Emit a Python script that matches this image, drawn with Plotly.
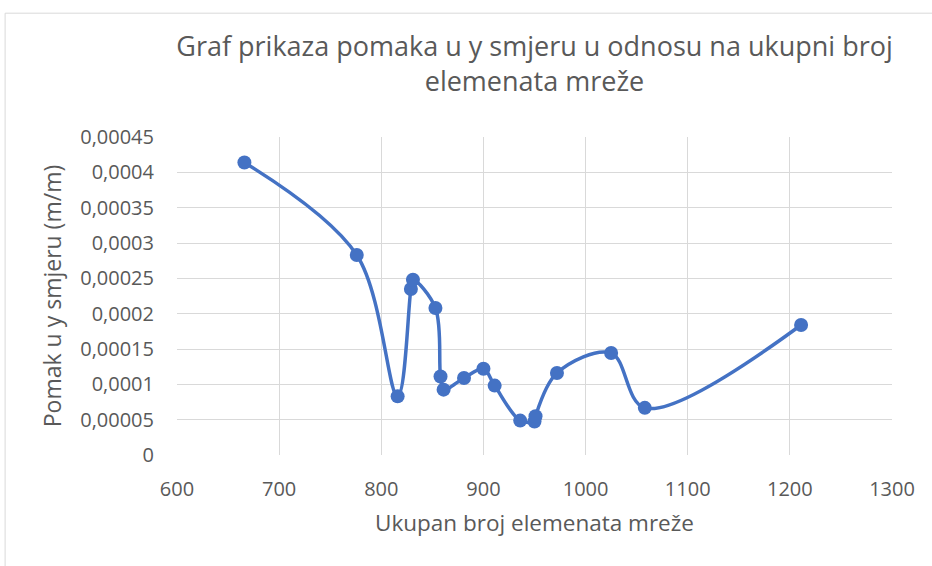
import plotly.graph_objects as go

# Mesh size (total number of elements) vs. displacement in y direction
broj_elemenata = [666, 776, 816, 829, 831, 853, 858, 861, 881, 900, 911,
                  936, 950, 951, 972, 1025, 1058, 1211]
pomak_y = [0.000414, 0.000283, 0.000083, 0.000235, 0.000248, 0.000208,
           0.000111, 0.0000925, 0.000109, 0.000122, 0.0000982,
           0.0000487, 0.0000475, 0.0000548, 0.000116, 0.0001443,
           0.0000667, 0.000184]

x_tick_vals = [600, 700, 800, 900, 1000, 1100, 1200, 1300]
x_tick_text = ["600", "700", "800", "900", "1000", "1100", "1200", "1300"]
y_tick_vals = [0, 0.00005, 0.0001, 0.00015, 0.0002, 0.00025, 0.0003,
               0.00035, 0.0004, 0.00045]
y_tick_text = ["0", "0,00005", "0,0001", "0,00015", "0,0002", "0,00025",
               "0,0003", "0,00035", "0,0004", "0,00045"]

BLUE = "#4472C4"
GRID = "#d9d9d9"
TEXT = "#595959"
FONT = "Open Sans"

fig = go.Figure(
    go.Scatter(
        x=broj_elemenata,
        y=pomak_y,
        mode="lines+markers",
        line=dict(color=BLUE, width=3.5, shape="spline", smoothing=1),
        marker=dict(color=BLUE, size=14, line=dict(width=0)),
        hoverinfo="x+y",
    )
)

L, R, T, B = 177, 39.5, 137, 110.5
W, H = 932, 566
pw, ph = W - L - R, H - T - B

def px_to_paper_x(px):
    return (px - L) / pw

def px_to_paper_y(py):
    return (H - B - py) / ph

fig.update_layout(
    width=W,
    height=H,
    margin=dict(l=L, r=R, t=T, b=B, pad=0),
    paper_bgcolor="white",
    plot_bgcolor="white",
    showlegend=False,
    font=dict(family=FONT, color=TEXT),
    title=dict(
        text="Graf prikaza pomaka u y smjeru u odnosu na ukupni broj<br>elemenata mreže",
        x=0.5,
        xref="paper",
        xanchor="center",
        y=1 - 56 / H,
        yanchor="middle",
        font=dict(family=FONT, size=27, color=TEXT),
    ),
    xaxis=dict(
        range=[600, 1300],
        tickvals=x_tick_vals,
        ticktext=x_tick_text,
        showgrid=True,
        gridcolor=GRID,
        gridwidth=1,
        zeroline=False,
        showline=False,
        ticks="",
        ticklabelstandoff=20,
        tickfont=dict(family=FONT, size=20, color=TEXT),
        title=dict(text="Ukupan broj elemenata mreže", standoff=14,
                   font=dict(family=FONT, size=22.5, color=TEXT)),
    ),
    yaxis=dict(
        range=[0, 0.00045],
        tickvals=y_tick_vals,
        ticktext=y_tick_text,
        showgrid=True,
        gridcolor=GRID,
        gridwidth=1,
        zeroline=False,
        showline=False,
        ticks="",
        ticklabelstandoff=22,
        tickfont=dict(family=FONT, size=20, color=TEXT),
        title=dict(text="Pomak u y smjeru (m/m)", standoff=12,
                   font=dict(family=FONT, size=23, color=TEXT)),
    ),
    shapes=[
        dict(
            type="rect",
            xref="paper",
            yref="paper",
            x0=px_to_paper_x(5),
            x1=px_to_paper_x(945),
            y0=px_to_paper_y(580),
            y1=px_to_paper_y(13),
            line=dict(color=GRID, width=1),
            fillcolor="rgba(0,0,0,0)",
            layer="below",
        )
    ],
)

fig.write_html("out.html")
